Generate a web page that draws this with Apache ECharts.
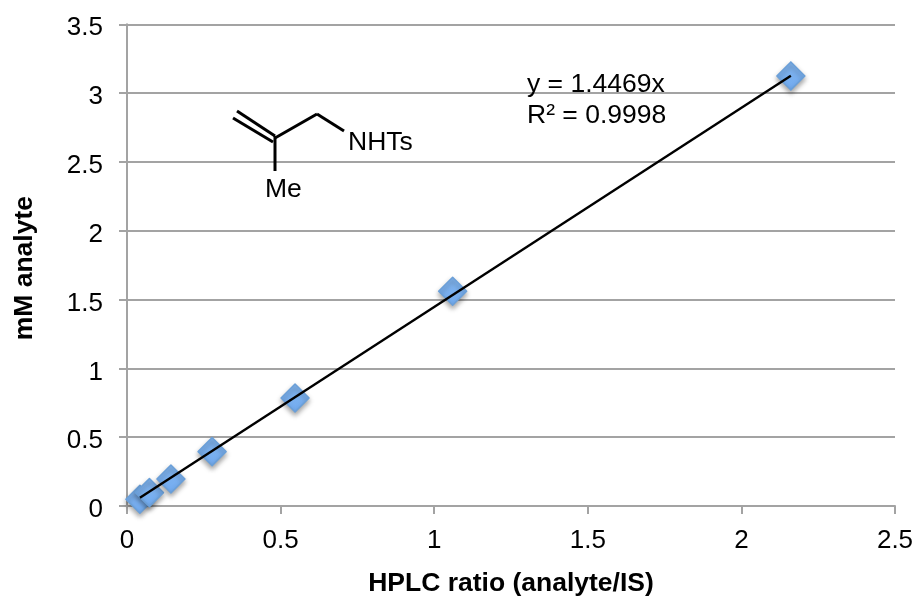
<!DOCTYPE html>
<html><head><meta charset="utf-8">
<style>html,body{margin:0;padding:0;background:#fff}#c{width:918px;height:597px}</style>
<script src="https://cdn.jsdelivr.net/npm/echarts@6/dist/echarts.min.js"></script>
</head><body><div id="c"></div>
<script>
const ratioValues = [0.042, 0.073, 0.143, 0.277, 0.547, 1.06, 2.161];
const analyteValues = [0.049, 0.097, 0.196, 0.395, 0.785, 1.56, 3.125];
const trendX = [0.042, 2.161];
const trendY = [0.06, 3.127];
const xTitle = 'HPLC ratio (analyte/IS)';
const yTitle = 'mM analyte';
const equationLines = ['y = 1.4469x', 'R² = 0.9998'];
const font = '"Liberation Sans", Arial, sans-serif';
const gray = '#a3a3a3';
const chart = echarts.init(document.getElementById('c'), null, {renderer:'canvas'});
const bond = (x1,y1,x2,y2) => ({type:'line', shape:{x1,y1,x2,y2}, z:10,
  style:{stroke:'#000', lineWidth:3}});
const label = (x,y,text) => ({type:'text', x, y, z:10,
  style:{text, fill:'#000', font:'26.5px '+font, textVerticalAlign:'middle'}});
const axisCommon = {
  axisLine:{show:true,onZero:false,lineStyle:{color:gray,width:2}},
  axisTick:{show:true,length:8,lineStyle:{color:gray,width:2}},
  axisLabel:{color:'#000',fontSize:26,fontFamily:font},
  nameLocation:'middle',
  nameTextStyle:{color:'#000',fontSize:26.5,fontWeight:'bold',fontFamily:font}
};
chart.setOption({
  animation:false,
  backgroundColor:'#fff',
  grid:{left:127,right:23,top:24.3,bottom:91,outerBoundsMode:'none'},
  xAxis:Object.assign({},axisCommon,{type:'value',min:0,max:2.5,interval:0.5,splitLine:{show:false},
    name:xTitle,nameGap:64,axisLabel:Object.assign({},axisCommon.axisLabel,{margin:22})}),
  yAxis:Object.assign({},axisCommon,{type:'value',min:0,max:3.5,interval:0.5,
    splitLine:{show:true,lineStyle:{color:gray,width:2}},
    name:yTitle,nameGap:89,
    nameTextStyle:Object.assign({},axisCommon.nameTextStyle,{padding:[0,6,0,0]}),
    axisLabel:Object.assign({},axisCommon.axisLabel,{margin:24,verticalAlign:'top',lineHeight:8})}),
  series:[
    {type:'scatter',data:ratioValues.map((x,i)=>[x,analyteValues[i]]),symbol:'diamond',symbolSize:28,z:3,
     itemStyle:{opacity:1,
       color:new echarts.graphic.LinearGradient(0,0,0,1,[{offset:0,color:'#82b4ec'},{offset:1,color:'#72acf2'}]),
       borderColor:'#6a9fd8',borderWidth:1.5,borderJoin:'round',
       shadowColor:'rgba(0,0,0,0.35)',shadowBlur:5,shadowOffsetY:3}},
    {type:'line',data:trendX.map((x,i)=>[x,trendY[i]]),symbol:'none',z:4,silent:true,
     lineStyle:{color:'#000',width:2.4}}
  ],
  graphic:[
    bond(237,111,275,136), bond(233,118,273,142),
    bond(275,138,317,114), bond(317,114,344,131), bond(275,136,275,171),
    label(348,143,'NHTs'), label(265,190,'Me'),
    label(527,85,equationLines[0]), label(527,116,equationLines[1])
  ]
});
</script></body></html>
